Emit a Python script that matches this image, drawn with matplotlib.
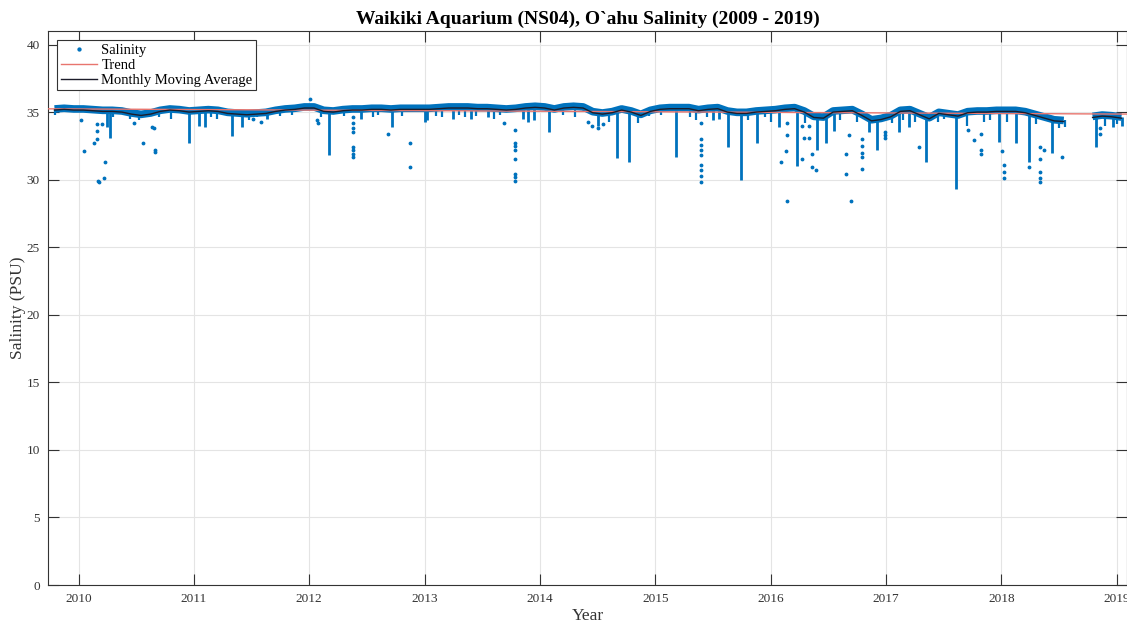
import numpy as np
import matplotlib
matplotlib.use("Agg")
import matplotlib.pyplot as plt

# monthly mean salinity, Oct 2009 .. Jan 2019 (nan = no data)
start_year = 2009.75
monthly_avg = [
    35.15, 35.2, 35.15,
    35.15, 35.1, 35.05, 35.05, 35.0, 34.85, 34.75, 34.85, 35.05, 35.15, 35.1, 35.0,
    35.05, 35.1, 35.05, 34.9, 34.85, 34.8, 34.85, 34.9, 35.05, 35.15, 35.2, 35.3,
    35.3, 35.05, 35.0, 35.1, 35.15, 35.15, 35.2, 35.2, 35.15, 35.2, 35.2, 35.2,
    35.2, 35.25, 35.3, 35.3, 35.3, 35.25, 35.25, 35.2, 35.15, 35.2, 35.3, 35.35,
    35.3, 35.15, 35.3, 35.35, 35.3, 34.95, 34.85, 34.95, 35.15, 35.0, 34.75, 35.05,
    35.2, 35.25, 35.25, 35.25, 35.1, 35.2, 35.25, 35.0, 34.9, 34.9, 35.0, 35.05,
    35.1, 35.2, 35.25, 35.0, 34.6, 34.55, 35.0, 35.05, 35.1, 34.75, 34.35, 34.45,
    34.65, 35.05, 35.1, 34.8, 34.5, 34.9, 34.8, 34.7, 34.95, 35.0, 35.0, 35.05,
    35.05, 35.05, 34.95, 34.75, 34.55, 34.35, 34.3, np.nan, np.nan, 34.6, 34.7, 34.65,
    34.55,
]

# low-salinity events drawn as solid streaks (year, minimum PSU)
dip_year = [2010.25, 2010.27, 2010.96, 2011.04, 2011.10, 2011.33, 2011.42, 2011.63,
            2012.17, 2012.45, 2012.72, 2013.00, 2013.02, 2013.25, 2013.40, 2013.55,
            2013.85, 2013.90, 2013.95, 2014.08, 2014.50, 2014.67, 2014.77, 2015.18,
            2015.50, 2015.55, 2015.63, 2015.74, 2015.88, 2016.07, 2016.23, 2016.40,
            2016.48, 2016.55, 2016.85, 2016.92, 2017.11, 2017.20, 2017.35, 2017.61,
            2017.98, 2018.13, 2018.24, 2018.44, 2018.82, 2018.97, 2019.05]
dip_min = [33.9, 33.1, 32.7, 34.0, 33.9, 33.2, 33.9, 34.5,
           31.8, 34.5, 33.9, 34.3, 34.4, 34.5, 34.5, 34.6,
           34.5, 34.3, 34.4, 33.5, 34.0, 31.6, 31.3, 31.7,
           34.4, 34.5, 32.4, 30.0, 32.7, 33.9, 31.0, 32.2,
           32.7, 33.6, 33.5, 32.2, 33.5, 33.9, 31.3, 29.3,
           32.8, 32.7, 31.3, 32.0, 32.4, 33.9, 34.0]

# small day-to-day drops below the band (year, minimum PSU)
small_year = [2009.80, 2010.30, 2010.45, 2010.52, 2010.70, 2010.80, 2011.15, 2011.20,
              2011.48, 2011.55, 2011.75, 2011.85, 2012.10, 2012.30, 2012.55, 2012.60,
              2012.80, 2013.10, 2013.15, 2013.30, 2013.35, 2013.45, 2013.60, 2013.65,
              2014.20, 2014.30, 2014.60, 2014.85, 2014.95, 2015.05, 2015.30, 2015.35,
              2015.45, 2015.80, 2015.95, 2016.00, 2016.30, 2016.60, 2016.75, 2017.05,
              2017.15, 2017.25, 2017.45, 2017.50, 2017.70, 2017.85, 2017.90, 2018.05,
              2018.30, 2018.50, 2018.55, 2018.90, 2019.00]
small_min = [34.8, 34.6, 34.5, 34.4, 34.6, 34.5, 34.6, 34.5,
             34.4, 34.6, 34.7, 34.8, 34.6, 34.7, 34.6, 34.8,
             34.7, 34.7, 34.6, 34.8, 34.6, 34.7, 34.5, 34.8,
             34.8, 34.6, 34.3, 34.2, 34.7, 34.8, 34.6, 34.4,
             34.6, 34.4, 34.6, 34.3, 34.2, 34.4, 34.3, 34.2,
             34.4, 34.3, 34.3, 34.5, 34.0, 34.3, 34.4, 34.3,
             34.1, 33.8, 33.9, 34.0, 34.1]

# scattered single readings
out_year = [2010.02, 2010.05, 2010.16, 2010.20, 2010.16, 2010.16, 2010.13, 2010.23,
            2010.17, 2010.18, 2010.22, 2010.48, 2010.56, 2010.64, 2010.65, 2010.66,
            2010.66, 2011.51, 2011.58, 2012.01, 2012.07, 2012.08, 2012.38, 2012.38,
            2012.38, 2012.38, 2012.38, 2012.38, 2012.38, 2012.38, 2012.68, 2012.87,
            2012.87, 2013.69, 2013.78, 2013.78, 2013.78, 2013.78, 2013.78, 2013.78,
            2013.78, 2013.78, 2014.42, 2014.45, 2014.50, 2014.55, 2015.40, 2015.40,
            2015.40, 2015.40, 2015.40, 2015.40, 2015.40, 2015.40, 2015.40, 2016.09,
            2016.13, 2016.14, 2016.14, 2016.14, 2016.27, 2016.33, 2016.29, 2016.33,
            2016.27, 2016.36, 2016.36, 2016.39, 2016.65, 2016.65, 2016.68, 2016.70,
            2016.79, 2016.79, 2016.79, 2016.79, 2016.79, 2016.99, 2016.99, 2016.99,
            2017.29, 2017.71, 2017.76, 2017.82, 2017.82, 2017.82, 2018.01, 2018.02,
            2018.02, 2018.02, 2018.24, 2018.34, 2018.34, 2018.34, 2018.34, 2018.34,
            2018.37, 2018.53, 2018.86, 2018.86]
out_val = [34.4, 32.1, 34.1, 34.1, 33.6, 33.0, 32.7, 31.3,
           29.9, 29.85, 30.1, 34.2, 32.7, 33.9, 33.8, 32.2,
           32.05, 34.5, 34.3, 36.0, 34.4, 34.2, 34.6, 34.2,
           33.8, 33.5, 32.4, 32.2, 31.9, 31.7, 33.4, 32.7,
           30.9, 34.2, 33.7, 32.7, 32.5, 32.2, 31.5, 30.4,
           30.2, 29.9, 34.3, 34.0, 33.8, 34.1, 34.2, 33.0,
           32.6, 32.2, 31.8, 31.1, 30.7, 30.3, 29.85, 31.3,
           32.1, 33.3, 34.2, 28.4, 34.0, 34.0, 33.1, 33.1,
           31.5, 31.9, 30.9, 30.7, 31.9, 30.4, 33.3, 28.4,
           33.0, 32.5, 32.0, 31.7, 30.8, 33.5, 33.3, 33.1,
           32.4, 33.7, 32.9, 33.4, 32.2, 31.9, 32.1, 31.1,
           30.6, 30.1, 30.9, 32.4, 31.5, 30.6, 30.1, 29.8,
           32.2, 31.7, 33.8, 33.4]

# linear trend end points
trend_year = [2009.73, 2019.10]
trend_val = [35.24, 34.85]

years = [2010, 2011, 2012, 2013, 2014, 2015, 2016, 2017, 2018, 2019]

blue = "#0072BD"
plt.rcParams['font.family'] = ['Liberation Serif', 'DejaVu Serif']

fig = plt.figure(figsize=(11.27, 6.23), dpi=100)
ax = fig.add_axes([48 / 1127, 38 / 623, 1 - 48 / 1127, 554 / 623])

avg = np.array(monthly_avg)
month_t = start_year + (np.arange(len(avg)) + 0.5) / 12


def level_at(yrs):
    i = np.clip(((np.array(yrs) - start_year) * 12).astype(int), 0, len(avg) - 1)
    return np.nan_to_num(avg[i], nan=34.6) + 0.1


# dense daily readings form a band around the monthly level
ax.plot(month_t, avg + 0.08, color=blue, lw=5.5, solid_capstyle="butt", zorder=2)
ax.vlines(dip_year, dip_min, level_at(dip_year), color=blue, lw=2.0, zorder=2)
ax.vlines(small_year, small_min, level_at(small_year), color=blue, lw=1.6, zorder=2)
ax.plot(out_year, out_val, ".", color=blue, ms=3.5, zorder=2, label="Salinity")
ax.plot(trend_year, trend_val, color="#e8756e", lw=1, zorder=3, label="Trend")
ax.plot(month_t, avg, color="#1c1c2a", lw=1.0, zorder=4, label="Monthly Moving Average")

ax.set_xlim(2009.735, 2019.09)
ax.set_ylim(0, 41)
ax.set_xticks(years)
ax.set_yticks(range(0, 41, 5))
ax.grid(True, color="#e4e4e4", lw=0.8)
ax.set_axisbelow(True)
ax.tick_params(direction="in", length=8, width=0.8, top=True, right=True,
               colors="#333333", labelsize=9.5, pad=6)
for s in ax.spines.values():
    s.set_color("#333333")
    s.set_linewidth(0.8)

ax.set_title("Waikiki Aquarium (NS04), O`ahu Salinity (2009 - 2019)",
             fontsize=14, fontweight="bold", pad=5)
ax.set_xlabel("Year", fontsize=12.5, color="#333333", labelpad=2)
ax.set_ylabel("Salinity (PSU)", fontsize=12.5, color="#333333", labelpad=0)

leg = ax.legend(loc="upper left", bbox_to_anchor=(0.0083, 0.984), borderaxespad=0,
                fontsize=10.5, fancybox=False, framealpha=1, edgecolor="#333333",
                handlelength=2.5, borderpad=0.25, labelspacing=0.12,
                handletextpad=0.3, markerscale=1.2)
leg.get_frame().set_linewidth(0.8)

fig.savefig("out.png", dpi=100)
